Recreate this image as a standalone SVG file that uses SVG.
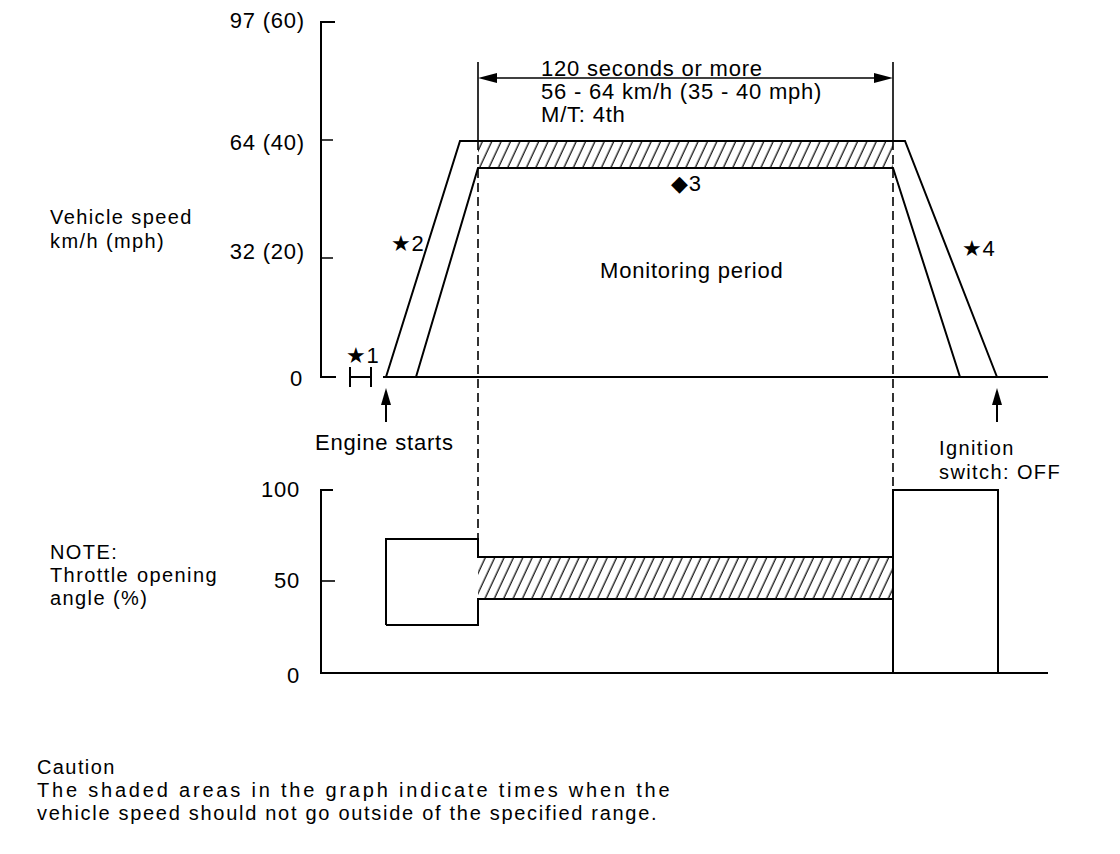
<svg xmlns="http://www.w3.org/2000/svg" width="1120" height="854" viewBox="0 0 1120 854">
<style>
  text { font-family: "Liberation Sans", "DejaVu Sans", Arial, sans-serif; font-size: 22px; letter-spacing: 0.8px; fill: #000; }
  .sm { font-size: 20px; letter-spacing: 1.4px; }
  .r { text-anchor: end; }
  .ln { fill: none; stroke: #000; stroke-width: 2; }
  .thin { fill: none; stroke: #000; stroke-width: 1.6; }
  .dash { fill: none; stroke: #000; stroke-width: 1.6; stroke-dasharray: 9 5; }
  .ah { fill: #000; stroke: none; }
</style>
<defs>
  <pattern id="hatch" patternUnits="userSpaceOnUse" width="8.5" height="12" patternTransform="rotate(25)">
    <line x1="4" y1="-1" x2="4" y2="13" stroke="#000" stroke-width="1.2"/>
  </pattern>
</defs>
<rect width="1120" height="854" fill="#fff"/>

<g id="speed-axis">
  <path class="ln" d="M335,22 H321 V377 H336"/>
  <path class="thin" d="M321,140 H333 M321,258 H333"/>
  <text class="r" x="305" y="28">97 (60)</text>
  <text class="r" x="305" y="150">64 (40)</text>
  <text class="r" x="305" y="259">32 (20)</text>
  <text class="r" x="303" y="386">0</text>
  <text class="sm" x="50" y="224">Vehicle speed</text>
  <text class="sm" x="50" y="248">km/h (mph)</text>
</g>

<g id="speed-curve">
  <rect x="478" y="141" width="415" height="27" fill="url(#hatch)"/>
  <path class="ln" d="M383,377 H1048"/>
  <polyline class="ln" points="386,377 460,141 905,141 997,377"/>
  <polyline class="ln" points="416,377 478,168 893,168 960,377"/>
</g>

<g id="star1">
  <path class="ln" d="M350,367 V387 M371,367 V387 M350,377 H371"/>
  <text x="346" y="363">★1</text>
</g>

<g id="star2"><text x="391" y="251">★2</text></g>
<g id="diamond3"><text x="671" y="191">◆3</text></g>
<g id="star4"><text x="962" y="256">★4</text></g>
<g id="monitoring"><text x="600" y="278">Monitoring period</text></g>

<g id="dimension">
  <path class="thin" d="M478,62 V141 M893,62 V141"/>
  <path class="thin" d="M490,78 H881"/>
  <polygon class="ah" points="478,78 497,73 497,83"/>
  <polygon class="ah" points="893,78 874,73 874,83"/>
  <text x="541" y="76">120 seconds or more</text>
  <text x="541" y="99">56 - 64 km/h (35 - 40 mph)</text>
  <text x="541" y="122">M/T: 4th</text>
</g>

<g id="connectors">
  <path class="dash" d="M478,141 V539"/>
  <path class="dash" d="M893,141 V490"/>
  <path class="ln" d="M386,402 V422"/>
  <polygon class="ah" points="386,388 381,405 391,405"/>
  <path class="ln" d="M997,402 V422"/>
  <polygon class="ah" points="997,388 992,405 1002,405"/>
</g>

<g id="engine-starts"><text x="315" y="450">Engine starts</text></g>
<g id="ignition">
  <text class="sm" x="939" y="455">Ignition</text>
  <text class="sm" x="939" y="479">switch: OFF</text>
</g>

<g id="throttle-axis">
  <path class="ln" d="M333,490 H321 V673 H1048"/>
  <path class="thin" d="M321,581 H335"/>
  <text class="r" x="300" y="497">100</text>
  <text class="r" x="300" y="588">50</text>
  <text class="r" x="300" y="683">0</text>
  <text class="sm" x="50" y="559">NOTE:</text>
  <text class="sm" x="50" y="582"><tspan>Throttle</tspan><tspan x="137">opening</tspan></text>
  <text class="sm" x="50" y="605">angle (%)</text>
</g>

<g id="throttle-curve">
  <rect x="478" y="557" width="415" height="42" fill="url(#hatch)"/>
  <path class="ln" d="M386,625 V539 H478 V557 H893"/>
  <path class="ln" d="M386,625 H478 V599 H893"/>
  <path class="ln" d="M893,673 V490 H998 V673"/>
</g>

<g id="caution">
  <text class="sm" x="37" y="774">Caution</text>
  <text class="sm" x="37" y="797" textLength="634" lengthAdjust="spacing">The shaded areas in the graph indicate times when the</text>
  <text class="sm" x="37" y="820" textLength="621" lengthAdjust="spacing">vehicle speed should not go outside of the specified range.</text>
</g>
</svg>
